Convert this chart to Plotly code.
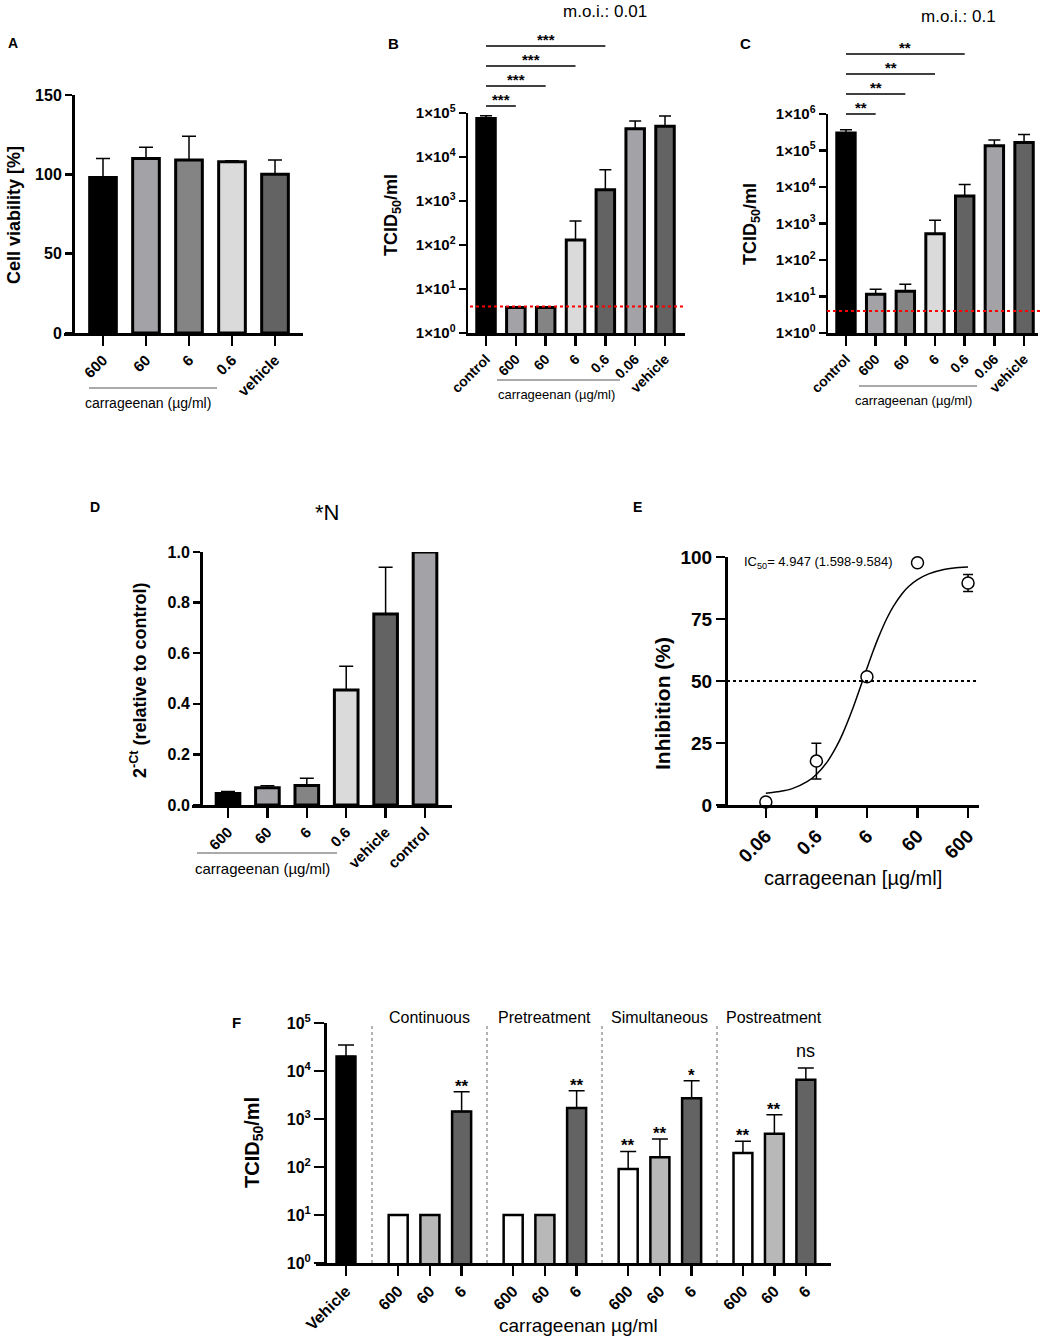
import math
import plotly.graph_objects as go

W, H = 1049, 1339
FONT = "Liberation Sans, Arial, Helvetica, sans-serif"

# ------------------------------------------------------------------ data
# Panel A – cell viability
a_cats = ["600", "60", "6", "0.6", "vehicle"]
a_vals = [98, 110, 109, 108, 100]
a_sd = [12, 7, 15, 0.6, 9]

# Panel B – TCID50, m.o.i. 0.01
b_cats = ["control", "600", "60", "6", "0.6", "0.06", "vehicle"]
b_vals = [75000, 3.8, 3.8, 130, 1800, 44000, 50000]
b_sd = [12000, 0, 0, 220, 3300, 22000, 36000]
b_lod = 4
b_sig_targets = ["600", "60", "6", "0.6"]
b_sig = ["***", "***", "***", "***"]

# Panel C – TCID50, m.o.i. 0.1
c_cats = ["control", "600", "60", "6", "0.6", "0.06", "vehicle"]
c_vals = [300000, 11.6, 14, 520, 5700, 135000, 165000]
c_sd = [70000, 4.2, 7.5, 700, 6000, 60000, 110000]
c_lod = 4
c_sig_targets = ["600", "60", "6", "0.6"]
c_sig = ["**", "**", "**", "**"]

# Panel D – N gene 2^-Ct
d_cats = ["600", "60", "6", "0.6", "vehicle", "control"]
d_vals = [0.045, 0.068, 0.077, 0.455, 0.755, 1.0]
d_sd = [0.008, 0.008, 0.029, 0.093, 0.185, 0]

# Panel E – inhibition curve
e_conc = [0.06, 0.6, 6, 60, 600]
e_inh = [1.2, 17.7, 51.7, 97.7, 89.5]
e_sd = [0, 7.2, 0, 0, 3.4]
e_fit_conc = [0.06, 0.1, 0.2, 0.4, 0.6, 1, 1.5, 2, 3, 4, 5, 6, 8, 10, 15, 20,
              30, 40, 60, 100, 200, 400, 600]
e_fit_inh = [4.7, 5.3, 6.6, 9.5, 12.3, 17.6, 23.6, 28.9, 37.8, 44.9, 50.5, 55.1,
             62.2, 67.3, 75.4, 80.1, 85.3, 88.1, 90.9, 93.2, 95.0, 95.8, 96.0]
e_ic50_text = "IC<sub>50</sub>= 4.947 (1.598-9.584)"

# Panel F – time-of-addition
f_vehicle_cat = ["Vehicle"]
f_vehicle_val = [20000]
f_vehicle_sd = [15000]
f_groups = ["Continuous", "Pretreatment", "Simultaneous", "Postreatment"]
f_cats = ["600", "60", "6"]
f_vals = [
    [10, 10, 1430],
    [10, 10, 1700],
    [91, 160, 2700],
    [195, 490, 6550],
]
f_sd = [
    [0, 0, 2270],
    [0, 0, 2170],
    [120, 222, 3600],
    [147, 740, 4950],
]
f_sig = [
    ["", "", "**"],
    ["", "", "**"],
    ["**", "**", "*"],
    ["**", "**", "ns"],
]

# ------------------------------------------------------------------ styles
a_colors = ["#000000", "#a3a3a7", "#848484", "#dadada", "#636363"]
bc_colors = ["#000000", "#a3a3a7", "#848484", "#dadada", "#636363", "#a3a3a7", "#636363"]
d_colors = ["#000000", "#a3a3a7", "#848484", "#dadada", "#636363", "#a3a3a7"]
f_colors = ["#ffffff", "#b8b8b8", "#636363"]


def px(x):
    return x / W


def py(y):
    return 1 - y / H


def bar(cats, vals, sd, colors, xa, ya, width, lw=3, cap=7):
    return go.Bar(
        x=cats, y=vals, xaxis=xa, yaxis=ya, width=width,
        marker=dict(color=colors, line=dict(color="black", width=lw)),
        error_y=dict(type="data", symmetric=False, array=sd,
                     arrayminus=[0] * len(sd), color="black",
                     thickness=1.5, width=cap),
        showlegend=False, hoverinfo="skip")


fig = go.Figure()
fig.add_trace(bar(a_cats, a_vals, a_sd, a_colors, "x", "y", 0.62))
fig.add_trace(bar(b_cats, b_vals, b_sd, bc_colors, "x2", "y2", 0.62, cap=6))
fig.add_trace(bar(c_cats, c_vals, c_sd, bc_colors, "x3", "y3", 0.62, cap=6))
fig.add_trace(bar(d_cats, d_vals, d_sd, d_colors, "x4", "y4", 0.6, cap=7))

# Panel E
fig.add_trace(go.Scatter(x=e_fit_conc, y=e_fit_inh, xaxis="x5", yaxis="y5",
                         mode="lines", line=dict(color="black", width=1.5, shape="spline"),
                         showlegend=False, hoverinfo="skip"))
fig.add_trace(go.Scatter(x=e_conc, y=e_inh, xaxis="x5", yaxis="y5", mode="markers",
                         marker=dict(symbol="circle", size=12, color="white",
                                     line=dict(color="black", width=1.5)),
                         error_y=dict(type="data", array=e_sd, color="black",
                                      thickness=1.5, width=5),
                         cliponaxis=False, showlegend=False, hoverinfo="skip"))

# Panel F
fig.add_trace(bar(f_vehicle_cat, f_vehicle_val, f_vehicle_sd, ["#000000"], "x6", "y6",
                  0.6, lw=2.5, cap=8))
for i, g in enumerate(f_groups):
    fig.add_trace(bar(f_cats, f_vals[i], f_sd[i], f_colors, f"x{7 + i}", "y6",
                      0.6, lw=2.5, cap=8))

AX = dict(showline=True, linecolor="black", linewidth=2.5, ticks="outside",
          tickcolor="black", tickwidth=2.5, showgrid=False, zeroline=False,
          fixedrange=True, automargin=False)


def tf(size, bold=True):
    return dict(family=FONT, size=size, color="black", weight="bold" if bold else "normal")


def cat_x(domain, rng, cats, anchor, size, ticklen=10):
    return dict(AX, domain=[px(domain[0]), px(domain[1])], range=rng, type="category",
                categoryorder="array", categoryarray=cats, anchor=anchor,
                tickangle=-45, tickfont=tf(size), ticklen=ticklen)


def pow_text(vals, prefix):
    return [f"{prefix}10<sup>{int(round(math.log10(v)))}</sup>" for v in vals]


b_ticks = [1, 10, 100, 1000, 10000, 100000]
c_ticks = [1, 10, 100, 1000, 10000, 100000, 1000000]
f_ticks = [1, 10, 100, 1000, 10000, 100000]

layout = dict(
    width=W, height=H, margin=dict(l=0, r=0, t=0, b=0, autoexpand=False),
    paper_bgcolor="white", plot_bgcolor="white", showlegend=False,
    font=dict(family=FONT, color="black"),
    xaxis=cat_x((64, 303), [-0.907, 4.651], a_cats, "y", 15),
    yaxis=dict(AX, domain=[py(333), py(95)], range=[0, 150], tickvals=[0, 50, 100, 150],
               anchor="free", position=px(73), ticklen=7, tickfont=tf(16)),
    xaxis2=cat_x((468, 685), [-0.604, 6.67], b_cats, "y2", 14),
    yaxis2=dict(AX, domain=[py(333), py(113)], type="log", range=[0, 5],
                tickvals=b_ticks, ticktext=pow_text(b_ticks, "1×"),
                anchor="x2", ticklen=7, tickfont=tf(15)),
    xaxis3=cat_x((828, 1038), [-0.606, 6.47], c_cats, "y3", 14),
    yaxis3=dict(AX, domain=[py(333), py(114)], type="log", range=[0, 6],
                tickvals=c_ticks, ticktext=pow_text(c_ticks, "1×"),
                anchor="x3", ticklen=7, tickfont=tf(15)),
    xaxis4=cat_x((192, 452), [-0.914, 5.685], d_cats, "y4", 15),
    yaxis4=dict(AX, domain=[py(805), py(552)], range=[0, 1], dtick=0.2, tickformat=".1f",
                anchor="free", position=px(201), ticklen=7, tickfont=tf(16)),
    xaxis5=dict(AX, domain=[px(717), px(979)], type="log", range=[-2.188, 2.995],
                tickvals=e_conc, ticktext=[str(c) for c in e_conc], anchor="y5",
                tickangle=-45, ticklen=10, tickfont=tf(19)),
    yaxis5=dict(AX, domain=[py(805), py(557)], range=[0, 100], tickvals=[0, 25, 50, 75, 100],
                anchor="free", position=px(726), ticklen=9, tickfont=tf(19)),
    xaxis6=cat_x((316, 372), [-0.952, 0.825], f_vehicle_cat, "y6", 16, ticklen=10),
    yaxis6=dict(AX, domain=[py(1263), py(1023)], type="log", range=[0, 5],
                tickvals=f_ticks, ticktext=pow_text(f_ticks, ""),
                anchor="free", position=px(325), ticklen=10, tickfont=tf(16)),
)
f_domains = [(372, 487), (487, 602), (602, 717), (717, 831)]
for i, dom in enumerate(f_domains):
    layout[f"xaxis{7 + i}"] = cat_x(dom, [-0.825, 2.80], f_cats, "y6", 16, ticklen=10)

ann = []


def A(text, x, y, size, bold=False, xanchor="center", yanchor="middle", angle=0):
    ann.append(dict(text=text, x=px(x), y=py(y), xref="paper", yref="paper",
                    showarrow=False, font=tf(size, bold), xanchor=xanchor,
                    yanchor=yanchor, textangle=angle))


# panel letters
A("A", 13, 43, 14, True)
A("B", 393, 43, 15, True)
A("C", 745, 43, 15, True)
A("D", 95, 507, 14, True)
A("E", 637, 507, 14, True)
A("F", 236, 1022, 15, True)
# titles
A("m.o.i.: 0.01", 605, 12, 17)
A("m.o.i.: 0.1", 958, 17, 17)
A("*N", 327, 512, 22)
# y-axis titles
A("Cell viability [%]", 14, 215, 18, True, angle=-90)
A("TCID<sub>50</sub>/ml", 392, 215, 18, True, angle=-90)
A("TCID<sub>50</sub>/ml", 752, 224, 18, True, angle=-90)
A("2<sup>-Ct</sup> (relative to control)", 139, 680, 18, True, angle=-90)
A("Inhibition (%)", 662, 704, 21, True, angle=-90)
A("TCID<sub>50</sub>/ml", 253, 1143, 20, True, angle=-90)
# x-axis titles
A("carrageenan [µg/ml]", 853, 878, 20)
A("carrageenan µg/ml", 578, 1325, 19)
A("carrageenan (µg/ml)", 148, 403, 14)
A("carrageenan (µg/ml)", 556, 395, 13)
A("carrageenan (µg/ml)", 913, 400, 13)
A("carrageenan (µg/ml)", 262, 868, 15)
A(e_ic50_text, 742, 562, 13, xanchor="left")

shapes = []


def line_px(x0, x1, y0, y1, color="#555555", width=1, dash="solid"):
    shapes.append(dict(type="line", xref="paper", yref="paper", x0=px(x0), x1=px(x1),
                       y0=py(y0), y1=py(y1), line=dict(color=color, width=width, dash=dash)))


line_px(89, 217, 388, 388)
line_px(497, 620, 380, 380)
line_px(859, 977, 386, 386)
line_px(197, 337, 853, 853)

# significance brackets B / C (category positions by index)
for cats, targets, sigs, xa, levels in [
    (b_cats, b_sig_targets, b_sig, "x2", [106, 86, 66, 46]),
    (c_cats, c_sig_targets, c_sig, "x3", [114, 94, 74, 54]),
]:
    for t, s, lv in zip(targets, sigs, levels):
        i0, i1 = cats.index("control"), cats.index(t)
        shapes.append(dict(type="line", xref=xa, yref="paper", x0=i0, x1=i1,
                           y0=py(lv), y1=py(lv), line=dict(color="black", width=1.5)))
        ann.append(dict(text=s, x=(i0 + i1) / 2, y=py(lv + 4), xref=xa, yref="paper",
                        showarrow=False, font=tf(15, True), xanchor="center",
                        yanchor="bottom"))

# detection limits
shapes.append(dict(type="line", xref="paper", yref="y2", x0=px(470), x1=px(683),
                   y0=b_lod, y1=b_lod, line=dict(color="red", width=2, dash="dot")))
shapes.append(dict(type="line", xref="paper", yref="y3", x0=px(827), x1=px(1043),
                   y0=c_lod, y1=c_lod, line=dict(color="red", width=2, dash="dot")))
# 50 % line
shapes.append(dict(type="line", xref="paper", yref="y5", x0=px(727), x1=px(978),
                   y0=50, y1=50, line=dict(color="black", width=2, dash="dot")))

# Panel F separators, group labels, significance
for i, g in enumerate(f_groups):
    xa = f"x{7 + i}"
    shapes.append(dict(type="line", xref=f"{xa} domain", yref="y6 domain", x0=0, x1=0,
                       y0=0, y1=1, line=dict(color="#666666", width=1, dash="dot")))
    ann.append(dict(text=g, x=0.5, y=py(1017), xref=f"{xa} domain", yref="paper",
                    showarrow=False, font=tf(16, False), xanchor="center",
                    yanchor="middle"))
    for j, (v, sd, s) in enumerate(zip(f_vals[i], f_sd[i], f_sig[i])):
        if not s:
            continue
        ns = s == "ns"
        ann.append(dict(text=s, x=j, y=math.log10(v + sd), xref=xa, yref="y6",
                        showarrow=False, font=tf(18 if ns else 17, not ns),
                        xanchor="center", yanchor="bottom", yshift=5 if ns else -6))

layout["annotations"] = ann
layout["shapes"] = shapes
fig.update_layout(**layout)
fig.write_html("out.html",
               config={"displayModeBar": False, "staticPlot": True},
               post_script="document.body.style.margin='0';"
                           "document.body.style.overflow='hidden';")
